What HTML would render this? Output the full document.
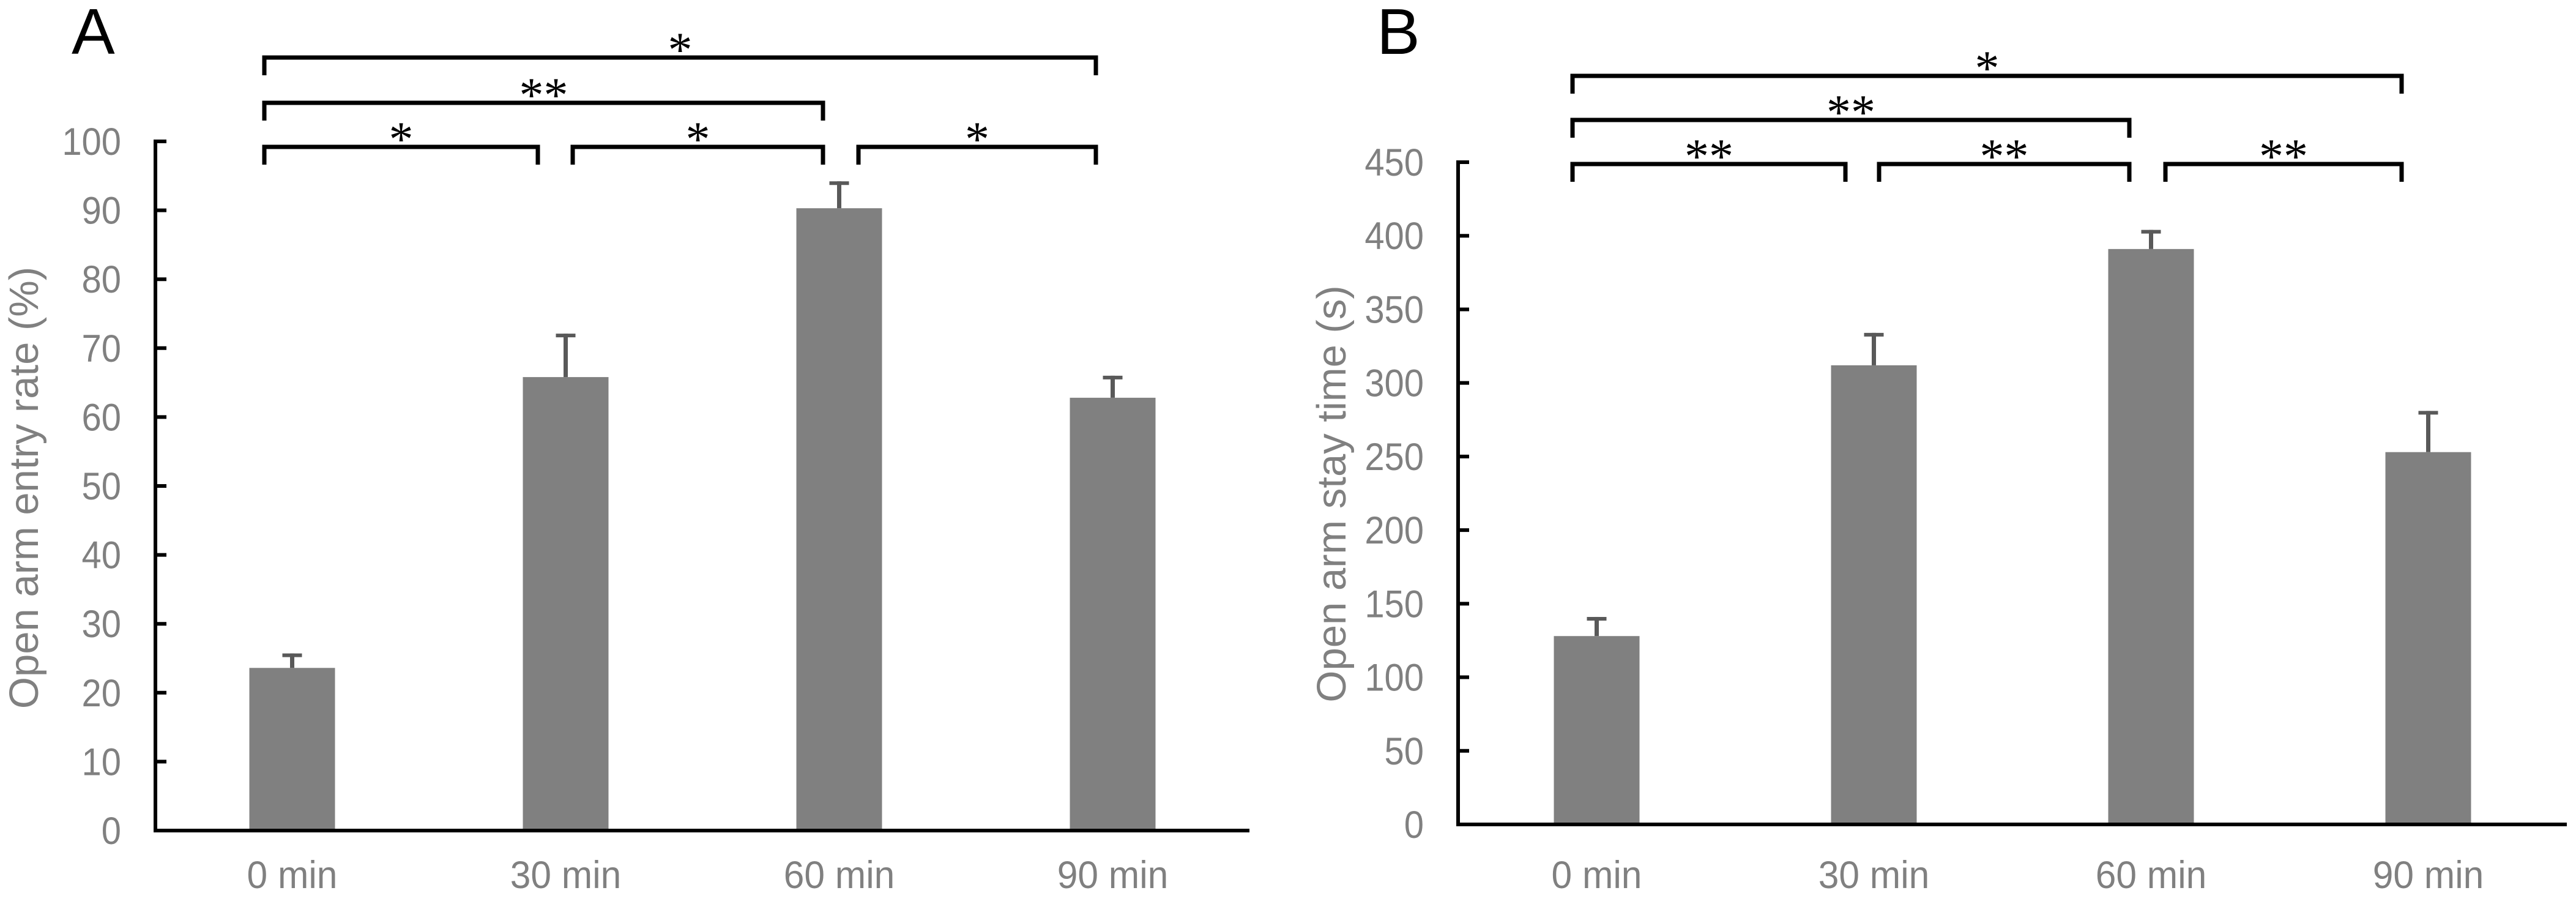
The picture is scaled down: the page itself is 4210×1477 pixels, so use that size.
<!DOCTYPE html>
<html><head><meta charset="utf-8"><style>
html,body{margin:0;padding:0;background:#fff;}
svg{display:block;}
</style></head><body>
<svg id="chart" width="4210" height="1477" viewBox="0 0 4210 1477" xmlns="http://www.w3.org/2000/svg">
<rect width="4210" height="1477" fill="#fff"/>
</svg>
<script>
const categories = ["0 min", "30 min", "60 min", "90 min"];
const valuesA = [23.6, 65.8, 90.3, 62.8];
const errorsA = [2.1, 6.3, 3.9, 3.2];
const ticksA = [0, 10, 20, 30, 40, 50, 60, 70, 80, 90, 100];
const valuesB = [128, 312, 391, 253];
const errorsB = [13, 22, 13, 28];
const ticksB = [0, 50, 100, 150, 200, 250, 300, 350, 400, 450];
const sigA = [[0, 1, 1, "*"], [1, 2, 1, "*"], [2, 3, 1, "*"], [0, 2, 2, "**"], [0, 3, 3, "*"]];
const sigB = [[0, 1, 1, "**"], [1, 2, 1, "**"], [2, 3, 1, "**"], [0, 2, 2, "**"], [0, 3, 3, "*"]];

const NS = "http://www.w3.org/2000/svg";
const svg = document.getElementById("chart");
function mk(tag, attrs, parent) {
  const e = document.createElementNS(NS, tag);
  for (const k in attrs) e.setAttribute(k, attrs[k]);
  (parent || svg).appendChild(e);
  return e;
}

function panel(cfg) {
  const g = mk("g", {});
  
  
  const x0 = cfg.x0, y0 = cfg.y0, catW = cfg.catW, yMax = cfg.yMax;
  const yScale = v => y0 - v / yMax * (y0 - cfg.yTop);
  const xCenter = i => x0 + catW * (i + 0.5);

  // letter
  const L = mk("text", {x: cfg.letterX, y: 88, "font-family": "Liberation Sans, sans-serif", "font-size": 106, fill: "#000"}, g);
  L.textContent = cfg.letter;
  
  

  // bars + errors
  cfg.values.forEach((v, i) => {
    const bw = 140;
    const b = mk("rect", {x: xCenter(i) - bw / 2, y: yScale(v), width: bw, height: y0 - yScale(v), fill: "#808080"}, g);
    
    
    const top = yScale(v + cfg.errors[i]);
    const eg = mk("g", {stroke: "#595959", fill: "none"}, g);
    
    
    mk("line", {x1: xCenter(i), x2: xCenter(i), y1: yScale(v), y2: top, "stroke-width": 7}, eg);
    mk("line", {x1: xCenter(i) - 16, x2: xCenter(i) + 16, y1: top + 3, y2: top + 3, "stroke-width": 6}, eg);
  });

  // axes
  const ax = mk("g", {stroke: "#000", "stroke-width": 6, fill: "none"}, g);
  
  
  mk("line", {x1: x0, x2: x0, y1: yScale(yMax) - 3, y2: y0 + 3}, ax);
  mk("line", {x1: x0 - 3, x2: x0 + catW * 4, y1: y0, y2: y0}, ax);
  cfg.ticks.forEach(t => {
    mk("line", {x1: x0, x2: x0 + 18, y1: yScale(t), y2: yScale(t)}, ax);
    const tx = mk("text", {transform: "translate(" + (x0 - 56) + "," + (yScale(t) + 22) + ") scale(0.92,1)", "text-anchor": "end", "font-family": "Liberation Sans, sans-serif", "font-size": 63, fill: "#808080"}, g);
    tx.textContent = t;
    
    
  });
  categories.forEach((c, i) => {
    const tx = mk("text", {transform: "translate(" + xCenter(i) + ",1451) scale(0.96,1)", "text-anchor": "middle", "font-family": "Liberation Sans, sans-serif", "font-size": 63, fill: "#808080"}, g);
    tx.textContent = c;
    
    
  });
  const yt = mk("text", {transform: "translate(" + cfg.titleX + "," + cfg.titleY + ") rotate(-90)", "text-anchor": "middle", "font-family": "Liberation Sans, sans-serif", "font-size": 67, fill: "#808080"}, g);
  yt.textContent = cfg.title;
  
  

  // significance brackets
  cfg.sig.forEach(s => {
    const [a, b, lvl, lab] = s;
    const ly = cfg.levels[lvl - 1];
    const xa = a === 0 ? cfg.brL : cfg.brStarts[a];
    const xb = b === 3 ? cfg.brR : cfg.brEnds[b];
    const bg = mk("g", {}, g);
    
    
    mk("path", {d: "M" + xa + "," + (ly + 29) + "V" + ly + "H" + xb + "V" + (ly + 29), stroke: "#000", "stroke-width": 7, fill: "none"}, bg);
    const st = mk("text", {x: (xa + xb) / 2, y: ly - 24 + 38, "text-anchor": "middle", "font-family": "Liberation Serif, serif", "font-size": 80, fill: "#000"}, bg);
    st.textContent = lab;
  });
}

panel({name: "panel-a", letter: "A", letterX: 117, x0: 254, y0: 1357, yTop: 231, yMax: 100, catW: 447,
  values: valuesA, errors: errorsA, ticks: ticksA, title: "Open arm entry rate (%)", titleX: 62, titleY: 797,
  sig: sigA, levels: [240, 168, 94], brL: 432, brR: 1791, brStarts: {1: 936, 2: 1403}, brEnds: {1: 879, 2: 1345}});
panel({name: "panel-b", letter: "B", letterX: 2250, x0: 2383, y0: 1347, yTop: 265, yMax: 450, catW: 453,
  values: valuesB, errors: errorsB, ticks: ticksB, title: "Open arm stay time (s)", titleX: 2199, titleY: 807,
  sig: sigB, levels: [268, 196, 124], brL: 2570, brR: 3925, brStarts: {1: 3071, 2: 3539}, brEnds: {1: 3016, 2: 3480}});
</script>
</body></html>
